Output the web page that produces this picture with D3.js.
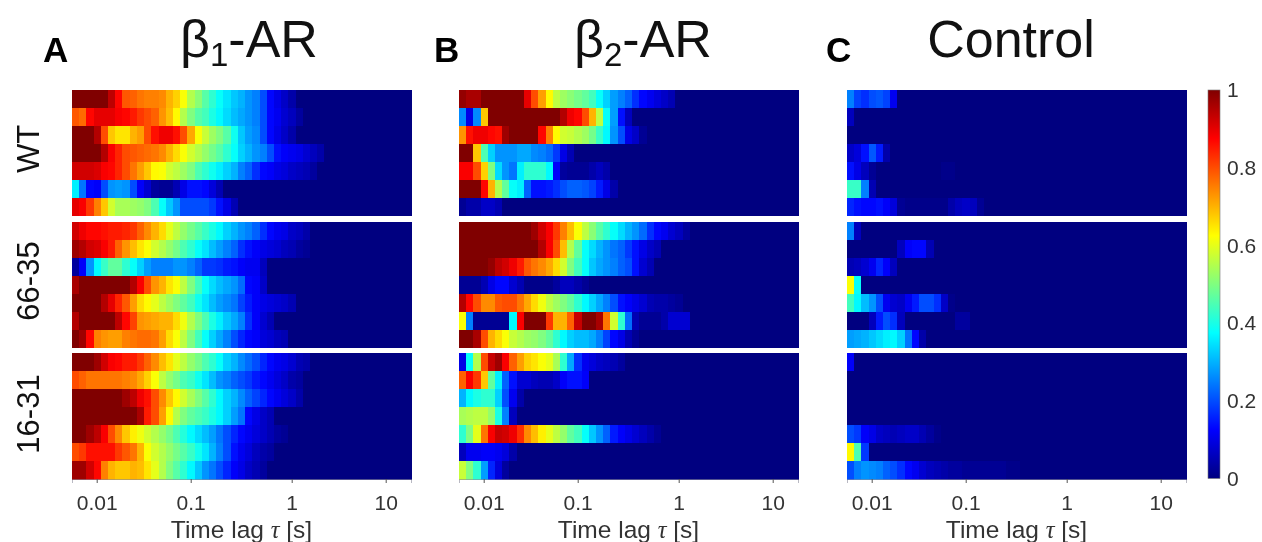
<!DOCTYPE html>
<html>
<head>
<meta charset="utf-8">
<script src="https://cdn.jsdelivr.net/npm/d3@7"></script>
<style>
  html, body { margin: 0; padding: 0; background: #fff; }
  svg { display: block; font-family: "Liberation Sans", Arial, sans-serif; filter: blur(0.45px); }
</style>
</head>
<body>
<svg id="chart" width="1262" height="542"></svg>
<script>
var beta1WT = [
  [1,1,1,1,1,.94,.87,.79,.78,.76,.75,.75,.74,.7,.67,.62,.55,.51,.46,.42,.38,.35,.32,.3,.27,.25,.2,.13,.1,.07,.04],
  [.79,.77,.87,.9,.9,.9,.88,.87,.85,.82,.8,.78,.73,.69,.63,.55,.5,.46,.44,.4,.37,.34,.31,.29,.27,.25,.2,.13,.11,.08,.06,.03],
  [1,1,1,.95,.8,.68,.65,.65,.7,.72,.8,.86,.89,.89,.86,.8,.71,.62,.57,.53,.5,.46,.39,.32,.28,.26,.2,.13,.1,.07,.04],
  [1,1,1,1,.95,.88,.84,.8,.79,.78,.77,.76,.74,.7,.66,.62,.58,.55,.52,.49,.46,.42,.38,.33,.3,.27,.25,.2,.14,.12,.11,.1,.08,.06,.04],
  [.92,.92,.92,.91,.88,.87,.84,.8,.76,.72,.68,.63,.62,.58,.56,.53,.5,.45,.42,.39,.36,.33,.3,.25,.22,.17,.13,.12,.1,.09,.07,.06,.05,.03],
  [.36,.24,.13,.12,.2,.27,.28,.27,.2,.12,.08,.03,.02,.02,.05,.1,.14,.14,.13,.09,.05],
  [.9,.88,.82,.75,.68,.58,.54,.54,.53,.52,.5,.45,.38,.32,.27,.2,.2,.2,.2,.18,.14,.1,.05]
];
var beta1A = [
  [.92,.89,.87,.87,.86,.85,.85,.84,.82,.78,.74,.7,.66,.6,.56,.52,.49,.46,.43,.4,.37,.33,.3,.27,.25,.22,.17,.13,.11,.1,.07,.06,.04],
  [.97,.95,.92,.91,.88,.85,.78,.73,.69,.65,.62,.58,.55,.52,.49,.45,.42,.38,.35,.31,.28,.25,.22,.17,.14,.12,.1,.09,.08,.06,.05,.03,.02],
  [.03,.12,.27,.37,.43,.47,.47,.42,.38,.33,.28,.25,.25,.25,.27,.27,.25,.22,.18,.18,.17,.15,.14,.12,.11,.11,.06],
  [.96,1,1,1,1,1,1,1,.95,.88,.8,.73,.7,.65,.62,.56,.5,.44,.38,.34,.31,.29,.27,.23,.13,.12,.07],
  [1,1,1,1,.95,.9,.84,.79,.72,.66,.63,.6,.56,.53,.5,.47,.44,.39,.35,.31,.28,.26,.24,.19,.15,.12,.1,.09,.08,.07,.05],
  [.95,1,1,1,1,1,.94,.87,.81,.73,.72,.71,.7,.7,.66,.61,.55,.5,.45,.4,.36,.32,.29,.25,.17,.12,.08,.05],
  [1,.97,.87,.75,.73,.72,.72,.75,.76,.77,.77,.76,.72,.66,.62,.56,.5,.44,.38,.33,.29,.25,.2,.16,.13,.12,.09,.08,.06,.05]
];
var beta1B = [
  [1,1,1,.97,.92,.88,.87,.85,.85,.82,.78,.74,.69,.65,.6,.56,.52,.49,.45,.42,.38,.33,.3,.26,.23,.2,.16,.13,.11,.1,.08,.05,.04],
  [.8,.78,.76,.76,.76,.76,.76,.75,.74,.71,.67,.62,.56,.52,.49,.45,.43,.39,.35,.31,.27,.25,.22,.2,.18,.15,.13,.11,.09,.07,.04,.03],
  [1,1,1,1,1,1,1,.97,.94,.89,.86,.8,.74,.68,.63,.58,.54,.5,.46,.42,.37,.33,.3,.26,.22,.19,.16,.13,.11,.09,.07,.04],
  [1,1,1,1,1,1,1,1,1,.96,.85,.8,.72,.63,.55,.5,.47,.45,.43,.4,.37,.33,.28,.24,.13,.1,.07,.05],
  [1,1,.97,.94,.88,.8,.74,.68,.64,.61,.58,.55,.52,.49,.45,.41,.37,.34,.31,.28,.24,.2,.16,.13,.11,.09,.07,.05,.03,.02],
  [.8,.82,.86,.86,.86,.86,.82,.79,.76,.7,.62,.58,.55,.52,.49,.46,.43,.39,.35,.3,.25,.2,.14,.11,.09,.06,.04,.03],
  [.97,.97,.92,.87,.75,.7,.68,.68,.7,.69,.65,.6,.55,.5,.46,.42,.37,.32,.27,.24,.2,.16,.12,.1,.07,.05,.03]
];
var beta2WT = [
  [.98,.96,.96,1,1,1,1,1,1,.9,.8,.72,.63,.56,.53,.51,.49,.47,.44,.38,.33,.28,.25,.22,.17,.13,.11,.09,.07,.05],
  [.26,.1,.26,.68,1,1,1,1,1,1,1,1,1,1,.95,.89,.87,.8,.7,.56,.38,.28,.14,.06],
  [.73,.86,.89,.89,.87,.86,.97,1,1,1,1,.87,.75,.63,.58,.57,.55,.53,.49,.43,.37,.27,.2,.1,.07,.02],
  [1,1,.68,.45,.33,.27,.27,.27,.29,.29,.26,.25,.23,.18,.1,.05],
  [.88,.88,.8,.67,.5,.34,.27,.24,.36,.42,.42,.42,.37,.12,.03,.02,.02,.02,.04,.06,.04],
  [1,1,1,.87,.7,.55,.47,.38,.36,.22,.14,.14,.15,.17,.2,.22,.22,.21,.19,.15,.1,.04],
  [.02,.04,.04,.07,.07,.05]
];
var beta2A = [
  [1,1,1,1,1,1,1,1,1,1,.97,.92,.88,.82,.75,.69,.62,.56,.51,.46,.42,.38,.34,.3,.27,.23,.17,.13,.11,.08,.06,.03],
  [1,1,1,1,1,1,1,1,1,1,1,.95,.88,.8,.69,.55,.47,.38,.34,.3,.27,.24,.22,.18,.14,.1,.07,.05],
  [1,1,1,1,.98,.94,.92,.89,.85,.79,.76,.74,.71,.66,.58,.5,.44,.38,.32,.29,.27,.25,.22,.2,.14,.08,.05],
  [.02,.02,.02,.05,.1,.13,.13,.08,.05,.01,.01,.01,.01,.03,.06,.06,.04,.02],
  [.95,.87,.8,.74,.74,.79,.8,.8,.76,.71,.66,.61,.56,.53,.5,.47,.42,.37,.33,.29,.25,.2,.14,.12,.1,.08,.05,.04,.04,.03,.02],
  [.62,.25,.02,.02,.02,.02,.02,.37,.88,1,1,1,.82,.7,.7,.78,.93,1,1,.96,.76,.58,.42,.23,.05,.02,.02,.02,.04,.08,.08,.08],
  [1,1,.96,.8,.7,.66,.62,.57,.55,.53,.52,.5,.47,.42,.37,.33,.31,.31,.29,.25,.19,.13,.1,.05,.02]
];
var beta2B = [
  [.1,.38,.55,.8,.93,.97,.88,.78,.72,.67,.65,.62,.6,.54,.42,.29,.17,.11,.09,.07,.06,.05,.03],
  [.78,.88,.82,.68,.47,.36,.22,.14,.08,.08,.06,.05,.05,.07,.12,.14,.14,.12],
  [.3,.37,.4,.42,.42,.33,.2,.11,.04],
  [.54,.55,.56,.56,.52,.4,.25,.06],
  [.42,.5,.6,.76,.88,.93,.92,.89,.83,.74,.69,.64,.6,.56,.52,.47,.44,.38,.32,.27,.22,.15,.12,.1,.08,.06,.04,.02],
  [.06,.11,.11,.12,.12,.11,.09,.04],
  [.57,.5,.42,.28,.16,.09,.03]
];
var controlWT = [
  [.25,.19,.17,.2,.21,.19,.11],
  [.06],
  [],
  [.07,.09,.14,.21,.15,.04],
  [.14,.1,.06,.02,0,0,0,0,0,0,0,0,0,.01,.01],
  [.43,.43,.25,.05],
  [.16,.14,.13,.13,.14,.12,.09,.02,.01,.01,.01,.01,.01,.01,.04,.06,.07,.06,.02]
];
var controlA = [
  [.25,.06],
  [0,0,0,0,0,0,0,.06,.12,.13,.13,.05],
  [.05,.06,.08,.11,.16,.12,.06],
  [.62,.38],
  [.44,.37,.31,.27,.2,.11,.08,.07,.11,.15,.2,.2,.17,.07,.01],
  [0,0,0,.06,.15,.2,.17,.06,0,0,0,0,0,0,0,.03,.03],
  [.28,.29,.3,.32,.34,.36,.37,.33,.24,.13,.04]
];
var controlB = [
  [.12],
  [],
  [],
  [],
  [.2,.18,.12,.1,.07,.06,.05,.06,.07,.07,.05,.03,.01],
  [.63,.45,.18],
  [.2,.25,.27,.26,.25,.22,.2,.17,.13,.11,.08,.06,.05,.04,.03,.03,.02,.02,.02,.02,.02,.02,.01,.01]
];

var panelTitles = ["β1-AR", "β2-AR", "Control"];
var panelLetters = ["A", "B", "C"];
var groupNames = ["WT", "66-35", "16-31"];
var lagTicks = [0.01, 0.1, 1, 10];
var colorTicks = [0, 0.2, 0.4, 0.6, 0.8, 1];
var jetStops = [0, 0.125, 0.375, 0.625, 0.875, 1];
var jetColors = ["#000080", "#0000ff", "#00ffff", "#ffff00", "#ff0000", "#800000"];
var nLags = 47;

var grid = [
  [beta1WT, beta1A, beta1B],
  [beta2WT, beta2A, beta2B],
  [controlWT, controlA, controlB]
];

var svg = d3.select("#chart");
var panelX = [72, 459, 847],
  groupY = [89.5, 221.5, 353],
  panelW = 339,
  panelH = 126;

var color = d3.scaleLinear().domain(jetStops).range(jetColors).clamp(true);
var col = d3.scaleBand().domain(d3.range(nLags)).range([0, panelW]);
var row = d3.scaleBand().domain(d3.range(7)).range([0, panelH]);

// Decades are not quite even in the original, so the log scale is split per decade
var lag = d3.scaleLog()
  .domain([0.00555, 0.01, 0.1, 1, 10, 18.3])
  .range([0, 24.7, 118.7, 219.7, 313.7, panelW]);

grid.forEach(function (panel, p) {
  panel.forEach(function (rows, g) {
    var cells = [];
    rows.forEach(function (values, r) {
      d3.range(nLags).forEach(function (c) {
        cells.push({ r: r, c: c, v: values[c] || 0 });
      });
    });

    var cell = svg.append("g")
      .attr("transform", "translate(" + panelX[p] + "," + groupY[g] + ")")
      .attr("shape-rendering", "crispEdges");

    cell.selectAll("rect")
      .data(cells)
      .enter()
      .append("rect")
      .attr("x", function (d) { return col(d.c); })
      .attr("y", function (d) { return row(d.r); })
      .attr("width", col.bandwidth() + 0.5)
      .attr("height", row.bandwidth() + 0.5)
      .attr("fill", function (d) { return color(d.v); });
  });

  // Only the bottom group has an axis
  var axis = svg.append("g")
    .attr("transform", "translate(" + panelX[p] + "," + (groupY[2] + panelH) + ")")
    .call(d3.axisBottom(lag).tickValues(lagTicks).tickFormat(d3.format("~g")).tickSize(4).tickPadding(12));
  axis.select(".domain").attr("stroke", "#8a8a9a").attr("stroke-width", 0.6);
  axis.selectAll(".tick line").attr("stroke", "#555");
  axis.selectAll(".tick text")
    .attr("fill", "#333")
    .style("font-family", "'Liberation Sans'")
    .style("font-size", "21px");

  var xLabel = svg.append("text")
    .attr("x", panelX[p] + panelW / 2)
    .attr("y", 538)
    .attr("text-anchor", "middle")
    .attr("fill", "#333")
    .style("font-size", "24.5px");
  xLabel.append("tspan").text("Time lag ");
  xLabel.append("tspan").style("font-family", "'Liberation Serif'").style("font-style", "italic").text("τ");
  xLabel.append("tspan").text(" [s]");
});

// Titles, with the subscript on the receptor names
var titleX = [249, 643, 1011];
panelTitles.forEach(function (t, i) {
  var title = svg.append("text")
    .attr("x", titleX[i])
    .attr("y", 57)
    .attr("text-anchor", "middle")
    .attr("fill", "#111")
    .style("font-size", "52px");
  if (i < 2) {
    title.append("tspan").text(t[0]);
    title.append("tspan").attr("dy", 9).style("font-size", "33px").text(t[1]);
    title.append("tspan").attr("dy", -9).text(t.slice(2));
  } else {
    title.text(t);
  }
});

var letterX = [43, 434, 826];
panelLetters.forEach(function (t, i) {
  svg.append("text")
    .attr("x", letterX[i])
    .attr("y", 62)
    .attr("fill", "#000")
    .style("font-size", "35px")
    .style("font-weight", "bold")
    .text(t);
});

var groupLabelY = [149, 281, 414];
groupNames.forEach(function (t, i) {
  svg.append("text")
    .attr("transform", "translate(39," + groupLabelY[i] + ") rotate(-90)")
    .attr("text-anchor", "middle")
    .attr("fill", "#111")
    .style("font-size", "31px")
    .text(t);
});

// Colorbar
var barX = 1208, barW = 12, barTop = 90, barBottom = 478.5;
var barScale = d3.scaleLinear().domain([0, 1]).range([barBottom, barTop]);

var grad = svg.append("defs").append("linearGradient")
  .attr("id", "jet")
  .attr("x1", 0).attr("y1", 1).attr("x2", 0).attr("y2", 0);
grad.selectAll("stop")
  .data(jetStops)
  .enter()
  .append("stop")
  .attr("offset", function (d) { return d; })
  .attr("stop-color", function (d) { return color(d); });

svg.append("rect")
  .attr("x", barX)
  .attr("y", barTop)
  .attr("width", barW)
  .attr("height", barBottom - barTop)
  .attr("fill", "url(#jet)")
  .attr("stroke", "#777")
  .attr("stroke-width", 0.6);

var barAxis = svg.append("g")
  .attr("transform", "translate(" + (barX + barW) + ",0)")
  .call(d3.axisRight(barScale).tickValues(colorTicks).tickFormat(d3.format("~g")).tickSize(0).tickPadding(7));
barAxis.select(".domain").remove();
barAxis.selectAll(".tick text")
  .attr("fill", "#333")
  .style("font-family", "'Liberation Sans'")
  .style("font-size", "21px");
</script>
</body>
</html>
